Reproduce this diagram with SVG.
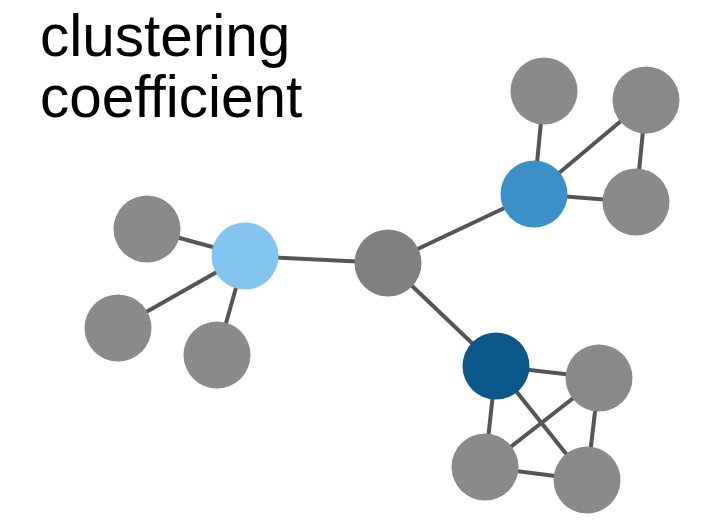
<svg xmlns="http://www.w3.org/2000/svg" width="708" height="520" viewBox="0 0 708 520">
<style>
.edge{stroke:#555555;stroke-width:4;fill:none}
.gray{fill:#8a8a8a}
.lbl{font-family:"Liberation Sans",Arial,sans-serif;font-size:58.5px;fill:#000}
</style>
<rect width="708" height="520" fill="#fff"/>
<text class="lbl" x="40" y="56">clustering</text>
<text class="lbl" x="40" y="117">coefficient</text>
<g id="connectors">
<line class="edge" x1="245" y1="256" x2="147" y2="229"/>
<line class="edge" x1="245" y1="256" x2="118" y2="328"/>
<line class="edge" x1="245" y1="256" x2="217" y2="355"/>
<line class="edge" x1="245" y1="256" x2="388" y2="263"/>
<line class="edge" x1="388" y1="263" x2="534" y2="194"/>
<line class="edge" x1="388" y1="263" x2="496" y2="366"/>
<line class="edge" x1="534" y1="194" x2="544" y2="91"/>
<line class="edge" x1="534" y1="194" x2="646" y2="100"/>
<line class="edge" x1="534" y1="194" x2="636" y2="202"/>
<line class="edge" x1="646" y1="100" x2="636" y2="202"/>
<line class="edge" x1="496" y1="366" x2="599" y2="378"/>
<line class="edge" x1="496" y1="366" x2="485" y2="467"/>
<line class="edge" x1="496" y1="366" x2="587" y2="480"/>
<line class="edge" x1="599" y1="378" x2="485" y2="467"/>
<line class="edge" x1="599" y1="378" x2="587" y2="480"/>
<line class="edge" x1="485" y1="467" x2="587" y2="480"/>
</g>
<g id="n-left-top"><circle class="gray" cx="147" cy="229" r="33.5"/></g>
<g id="n-left-bottom"><circle class="gray" cx="118" cy="328" r="33.5"/></g>
<g id="n-left-lower"><circle class="gray" cx="217" cy="355" r="33.5"/></g>
<g id="n-lightblue"><circle cx="245" cy="256" r="33.5" fill="#83c5ef"/></g>
<g id="n-center"><circle cx="388" cy="263" r="33.5" fill="#808080"/></g>
<g id="n-blue"><circle cx="534" cy="194" r="33.5" fill="#3b91c7"/></g>
<g id="n-top"><circle class="gray" cx="544" cy="91" r="33.5"/></g>
<g id="n-top-right"><circle class="gray" cx="646" cy="100" r="33.5"/></g>
<g id="n-right"><circle class="gray" cx="636" cy="202" r="33.5"/></g>
<g id="n-darkblue"><circle cx="496" cy="366" r="33.5" fill="#0b5888"/></g>
<g id="n-dr"><circle class="gray" cx="599" cy="378" r="33.5"/></g>
<g id="n-dbl"><circle class="gray" cx="485" cy="467" r="33.5"/></g>
<g id="n-dbr"><circle class="gray" cx="587" cy="480" r="33.5"/></g>
</svg>
